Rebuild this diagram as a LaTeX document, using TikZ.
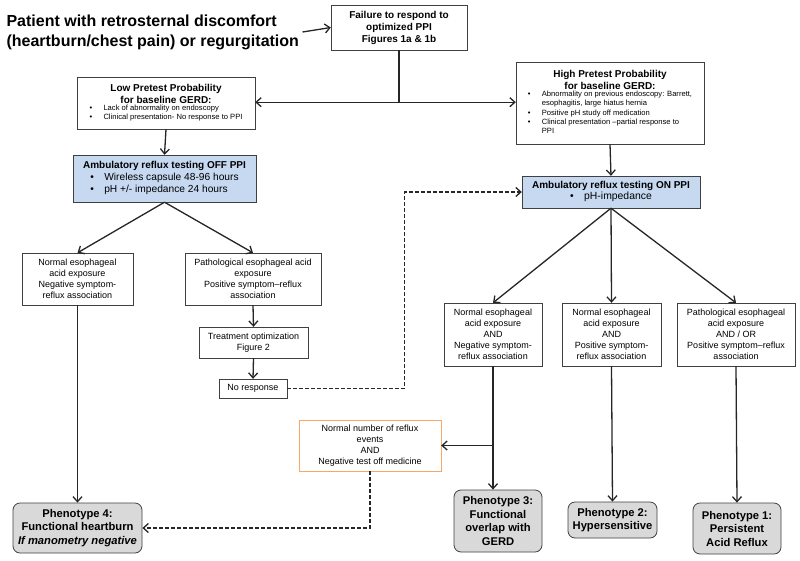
\documentclass[tikz,border=0pt]{standalone}
\usepackage{fontspec}
\setmainfont{Liberation Sans}
\usetikzlibrary{arrows.meta}
\definecolor{boxgray}{HTML}{404040}
\definecolor{testblue}{HTML}{C6D9F1}
\definecolor{phengray}{HTML}{D9D9D9}
\definecolor{evtorange}{HTML}{F5A86A}
\newcommand{\bullist}[1]{\begin{tabular}{@{}p{14pt}@{}l@{}}#1\end{tabular}}

\begin{document}
\begin{tikzpicture}[x=1pt, y=-1pt,
    every node/.style={font=\fontsize{9}{11}\selectfont},
    box/.style={rectangle, draw=boxgray, fill=white, align=center, inner sep=1pt},
    titled/.style={font=\bfseries\fontsize{10}{12}\selectfont},
    testbox/.style={box, titled, fill=testblue},
    phen/.style={rectangle, draw=boxgray, fill=phengray, thick, rounded corners=7pt, align=center, inner sep=1pt, font=\bfseries\fontsize{11.2}{13.5}\selectfont},
    arr/.style={line width=1.3pt, black!85, -{Straight Barb[length=5pt, width=9pt]}},
    darr/.style={arr, dash pattern=on 4pt off 2pt}]
    \useasboundingbox (0,0) rectangle (800,560);

    % Start
    \node[anchor=west, align=left, font=\bfseries\fontsize{16}{20}\selectfont] (patient) at (3,32)
        {Patient with retrosternal discomfort\\(heartburn/chest pain) or regurgitation};
    \node[box, titled, minimum width=136pt, minimum height=45pt] (fail) at (399,27.5)
        {Failure to respond to\\optimized PPI\\Figures 1a \& 1b};

    % Pretest probability
    \node[box, titled, minimum width=178pt, minimum height=52pt] (low) at (166,103)
        {Low Pretest Probability\\for baseline GERD:\\
         \mdseries\fontsize{7.6}{9.2}\selectfont\bullist{\textbullet & Lack of abnormality on endoscopy\\ \textbullet & Clinical presentation- No response to PPI}};
    \node[box, titled, minimum width=188pt, minimum height=82pt] (high) at (610,103)
        {High  Pretest Probability\\for baseline GERD:\\
         \mdseries\fontsize{7.6}{9.2}\selectfont\bullist{\textbullet & Abnormality on previous endoscopy: Barrett,\\ & esophagitis, large  hiatus hernia\\ \textbullet & Positive pH study off medication\\ \textbullet & Clinical presentation --partial response to\\ & PPI}};

    % Reflux testing
    \node[testbox, minimum width=183pt, minimum height=47pt] (off) at (164.5,178.5)
        {Ambulatory  reflux testing OFF  PPI\\
         \mdseries\fontsize{10.2}{12}\selectfont\bullist{\textbullet & Wireless capsule 48-96 hours\\ \textbullet & pH +/- impedance 24 hours}};
    \node[testbox, minimum width=178pt, minimum height=32pt] (on) at (611,192)
        {Ambulatory  reflux testing ON PPI\\
         \mdseries\fontsize{10.4}{11.5}\selectfont\bullist{\textbullet & pH-impedance}};

    % Off PPI branch
    \node[box, minimum width=111pt, minimum height=52pt] (normoff) at (77.5,279)
        {Normal esophageal\\acid exposure\\Negative symptom-\\reflux association};
    \node[box, minimum width=136pt, minimum height=52pt] (pathoff) at (253,279)
        {Pathological esophageal acid\\exposure\\Positive symptom--reflux\\association};
    \node[box, minimum width=109pt, minimum height=31pt] (treat) at (253.5,342.5)
        {Treatment  optimization\\Figure 2};
    \node[box, minimum width=68pt, minimum height=19pt] (noresp) at (253,388.5) {No  response};

    % On PPI branch
    \node[box, minimum width=98pt, minimum height=63pt] (overlapres) at (493,334.5)
        {Normal esophageal\\acid exposure\\AND\\Negative symptom-\\reflux association};
    \node[box, minimum width=99pt, minimum height=63pt] (hyperres) at (611.5,334.5)
        {Normal esophageal\\acid exposure\\AND\\Positive symptom-\\reflux association};
    \node[box, minimum width=118pt, minimum height=63pt] (pathon) at (736,334.5)
        {Pathological esophageal\\acid exposure\\AND / OR\\Positive symptom--reflux\\association};
    \node[box, draw=evtorange, minimum width=142pt, minimum height=51pt] (events) at (370,445.5)
        {Normal number of reflux\\events\\AND\\Negative test off medicine};

    % Phenotypes
    \node[phen, minimum width=129pt, minimum height=50pt] (ph4) at (77.5,528)
        {Phenotype 4:\\Functional heartburn\\\textit{If manometry negative}};
    \node[phen, minimum width=88pt, minimum height=62pt] (ph3) at (498,521)
        {Phenotype 3:\\Functional\\overlap with\\GERD};
    \node[phen, minimum width=89pt, minimum height=36pt] (ph2) at (612.5,520)
        {Phenotype 2:\\Hypersensitive};
    \node[phen, minimum width=88pt, minimum height=51pt] (ph1) at (737,528.5)
        {Phenotype 1:\\Persistent\\Acid Reflux};

    % Arrows
    \draw[arr] (patient.east) -- (fail.west);
    \draw[line width=1.3pt, black!85] (fail.south) -- ++(0,52) coordinate (split);
    \draw[arr] (split) -- (low.east |- split);
    \draw[arr] (split) -- (high.west |- split);
    \draw[arr] (low.south) -- (off.north);
    \draw[arr] (high.south) -- (on.north);
    \draw[arr] (off.south) -- (normoff.north);
    \draw[arr] (off.south) -- (pathoff.north);
    \draw[arr] (pathoff.south) -- (treat.north);
    \draw[arr] (treat.south) -- (noresp.north);
    \draw[darr] (noresp.east) -- ++(117,0) |- (on.west);
    \draw[arr] (on.south) -- (overlapres.north);
    \draw[arr] (on.south) -- (hyperres.north);
    \draw[arr] (on.south) -- (pathon.north);
    \draw[arr] (normoff.south) -- (ph4.north);
    \draw[arr] (overlapres.south) -- (overlapres.south |- ph3.north);
    \coordinate (junction) at (overlapres.south |- events.east);
    \draw[arr] (junction) -- (events.east);
    \draw[darr] (events.south) |- (ph4.east);
    \draw[arr] (hyperres.south) -- (ph2.north);
    \draw[arr] (pathon.south) -- (ph1.north);
\end{tikzpicture}
\end{document}
